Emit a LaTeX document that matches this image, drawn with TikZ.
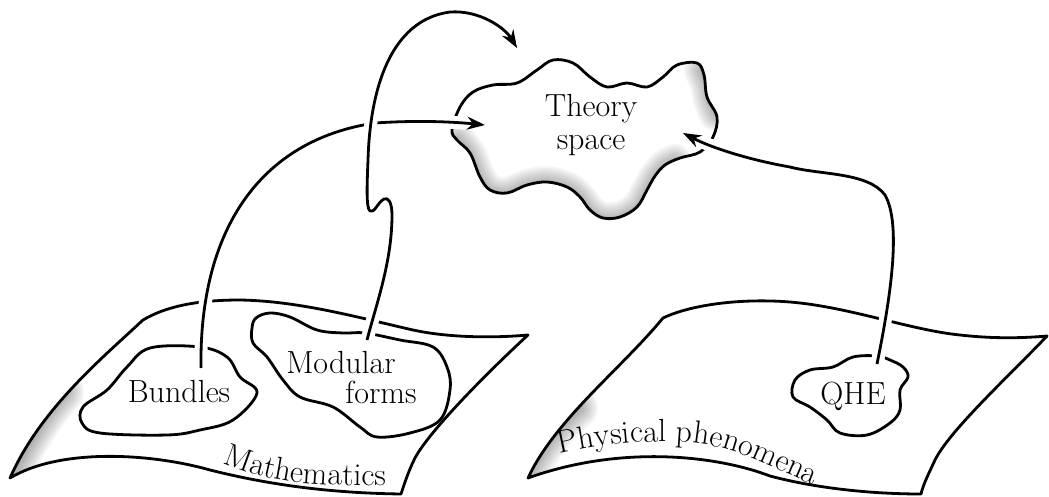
\documentclass[tikz,border=0pt]{standalone}
\usepackage{tikz}
\usetikzlibrary{arrows.meta,decorations.text}

\begin{document}
\begin{tikzpicture}[x=0.5pt,y=0.5pt,line width=1.4pt,line join=round]
  \tikzset{lbl/.style={font=\fontsize{16}{16.5}\selectfont,inner sep=0pt,align=center},
    haze/.style={opacity=0.04,line cap=round},
    arr/.style={-{Stealth[length=9pt,width=6.5pt]},preaction={draw=white,line width=6.5pt,arrows=-}}}
  \useasboundingbox (0,0) rectangle (1049,-497);
  \path[save path=\mathsheet] (143,-320) .. controls (165,-307) and (195,-300) .. (240,-300) .. controls (300,-301) and (360,-318) .. (413,-330) .. controls (450,-338) and (495,-338) .. (528,-335) .. controls (490,-370) and (430,-430) .. (415,-458) .. controls (408,-472) and (404,-485) .. (401,-494) .. controls (330,-493) and (270,-485) .. (210,-470) .. controls (150,-453) and (60,-448) .. (10,-478) .. controls (40,-410) and (100,-360) .. (143,-320) -- cycle;
  \path[save path=\physsheet] (663,-318) .. controls (690,-305) and (740,-298) .. (790,-302) .. controls (850,-307) and (910,-330) .. (960,-335) .. controls (995,-339) and (1025,-338) .. (1047,-336) .. controls (1010,-375) and (950,-430) .. (935,-460) .. controls (928,-475) and (923,-485) .. (921,-494) .. controls (870,-494) and (815,-488) .. (770,-476) .. controls (715,-455) and (620,-445) .. (528,-478) .. controls (555,-420) and (620,-370) .. (663,-318) -- cycle;
  \path[save path=\cloudp] plot[smooth cycle,tension=0.6] coordinates {(452,-130) (460,-107) (473,-92) (493,-85) (517,-83) (537,-70) (553,-60) (573,-63) (590,-77) (607,-87) (627,-83) (647,-87) (663,-77) (677,-65) (697,-63) (704,-75) (707,-97) (717,-117) (713,-137) (700,-152) (680,-158) (665,-165) (655,-176) (647,-190) (637,-207) (620,-217) (603,-218) (590,-210) (580,-197) (567,-187) (547,-182) (527,-185) (507,-193) (490,-190) (480,-177) (470,-153) (457,-140)};
  \begin{scope}
    \clip[use path=\mathsheet];
    \foreach \w in {2,4,...,22}
      \draw[haze,line width=\w pt] (4,-485) .. controls (25,-440) and (45,-410) .. (62,-392);
  \end{scope}
  \begin{scope}
    \clip[use path=\physsheet];
    \foreach \w in {2,4,...,20}
      \draw[haze,line width=\w pt] (522,-484) .. controls (540,-448) and (555,-428) .. (578,-408);
  \end{scope}
  \begin{scope}
    \clip[use path=\cloudp];
    \foreach \w in {2,4,...,16} {
      \draw[haze,line width=\w pt] plot[smooth] coordinates {(458,-138) (470,-153) (480,-177) (490,-190) (507,-193) (527,-185) (547,-182) (567,-187) (580,-197) (590,-210) (603,-218) (620,-217) (637,-207) (647,-190) (655,-176) (665,-165) (675,-160)};
      \draw[haze,line width=\w pt] plot[smooth] coordinates {(700,-70) (706,-85) (709,-100) (715,-115)};
    }
  \end{scope}
  \draw[use path=\mathsheet];
  \draw[use path=\physsheet];
  \draw[use path=\cloudp];
  \draw plot[smooth cycle,tension=0.6] coordinates {(200,-347) (150,-348) (127,-367) (107,-390) (83,-407) (82,-423) (100,-433) (167,-435) (200,-430) (233,-420) (257,-393) (240,-377) (227,-357)};
  \draw plot[smooth cycle,tension=0.6] coordinates {(256,-318) (270,-313) (290,-317) (317,-330) (343,-333) (365,-333) (400,-340) (433,-347) (447,-367) (450,-390) (440,-420) (410,-433) (377,-437) (360,-427) (333,-407) (300,-397) (283,-380) (267,-357) (253,-343) (252,-328)};
  \draw plot[smooth cycle,tension=0.6] coordinates {(877,-356) (853,-357) (833,-367) (810,-370) (795,-380) (793,-397) (810,-407) (827,-420) (840,-433) (867,-435) (890,-423) (900,-410) (900,-390) (908,-377) (903,-367) (890,-360)};
  \node[lbl] (theorylbl) at (591,-125) {Theory\\space};
  \node[lbl] (bundleslbl) at (179,-392) {Bundles};
  \node[lbl] (modlbl) at (341,-363) {Modular};
  \node[lbl] (formslbl) at (381,-392) {forms};
  \node[lbl] (qhelbl) at (853,-396) {QHE};
  \path[decorate,decoration={text along path,text={|\fontsize{16}{16}\selectfont|Mathematics},text align=center}] (212,-458) .. controls (245,-474) and (285,-484) .. (330,-485) .. controls (360,-486) and (382,-486) .. (398,-486);
  \path[decorate,decoration={text along path,text={|\fontsize{16}{16}\selectfont|Physical phenomena}}] (560,-454) .. controls (620,-440) and (690,-436) .. (735,-452) .. controls (765,-463) and (790,-476) .. (814,-485);
  \coordinate (bundlesfoot) at (201,-368);
  \coordinate (modfoot) at (367,-340);
  \coordinate (qhefoot) at (877,-364);
  \coordinate (theoryW) at (485,-125);
  \coordinate (theoryN) at (517,-48);
  \coordinate (theoryE) at (683,-133);
  \draw[arr] (bundlesfoot) .. controls (199,-230) and (260,-140) .. (375,-123) .. controls (420,-120) and (455,-122) .. (theoryW);
  \draw[arr] (modfoot) .. controls (376,-305) and (392,-262) .. (392,-215) .. controls (392,-202) and (388,-197) .. (384,-199) .. controls (378,-202) and (374,-214) .. (370,-211) .. controls (366,-208) and (367,-185) .. (368,-160) .. controls (370,-90) and (390,-20) .. (450,-12) .. controls (480,-10) and (505,-28) .. (theoryN);
  \draw[arr] (qhefoot) .. controls (890,-300) and (902,-225) .. (885,-195) .. controls (868,-172) and (820,-175) .. (790,-167) .. controls (750,-160) and (712,-148) .. (theoryE);
\end{tikzpicture}
\end{document}
